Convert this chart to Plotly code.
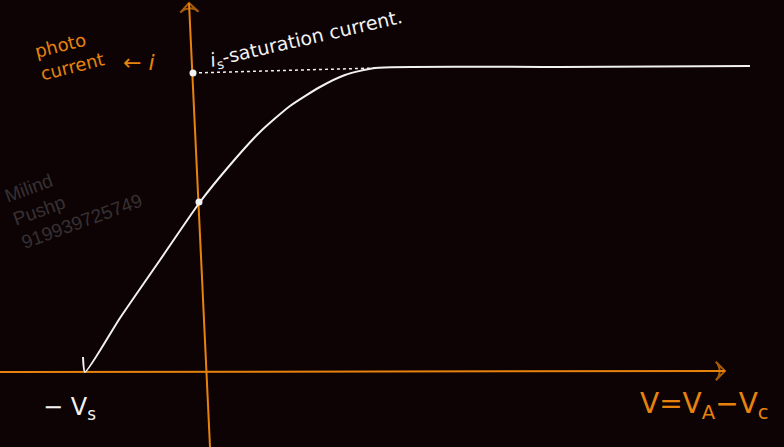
import plotly.graph_objects as go

# photocurrent curve (V in arbitrary units, i in arbitrary units)
volt = [-1.22, -1.20, -0.85, -0.45, -0.05, 0.25, 0.55, 0.85, 1.15, 1.40, 1.70, 3.55, 5.45]
curr = [0.15, 0.00, 0.54, 1.12, 1.70, 2.07, 2.40, 2.66, 2.85, 2.97, 3.04, 3.05, 3.06]

# saturation level guide (dotted) and marked points
sat_v = [-0.12, 1.70]
sat_i = [2.99, 3.04]
dot_v = [-0.12, -0.06]
dot_i = [2.99, 1.70]

# hand-drawn axes (end points)
v_axis_x = [0.05, -0.16]
v_axis_y = [-0.75, 3.69]
h_axis_x = [-2.05, 5.20]
h_axis_y = [0.0, 0.01]

ORANGE = "#e8820e"
WHITE = "#f2f2f2"
BG = "#0d0305"

fig = go.Figure()

# axes with open arrow heads at their ends
for ax_x, ax_y in [(h_axis_x, h_axis_y), (v_axis_x, v_axis_y)]:
    fig.add_trace(go.Scatter(
        x=ax_x, y=ax_y, mode="lines+markers",
        line=dict(color=ORANGE, width=2),
        marker=dict(symbol="arrow-wide-open", angleref="previous",
                    size=[0, 13], color=ORANGE, line=dict(color=ORANGE, width=2)),
        hoverinfo="skip"))

fig.add_trace(go.Scatter(x=sat_v, y=sat_i, mode="lines",
                         line=dict(color=WHITE, width=1.5, dash="dot"), hoverinfo="skip"))
fig.add_trace(go.Scatter(x=volt, y=curr, mode="lines",
                         line=dict(color=WHITE, width=2, shape="spline", smoothing=0.6),
                         hoverinfo="skip"))
fig.add_trace(go.Scatter(x=dot_v, y=dot_i, mode="markers",
                         marker=dict(color=WHITE, size=7), hoverinfo="skip"))

hand = "DejaVu Sans"
fig.add_annotation(x=-1.36, y=3.17, text="photo<br>current", showarrow=False,
                   textangle=-14, font=dict(color=ORANGE, size=18, family=hand),
                   align="left")
fig.add_annotation(x=-0.66, y=3.10, text="← <i>i</i>", showarrow=False,
                   font=dict(color=ORANGE, size=22, family=hand))
fig.add_annotation(x=1.01, y=3.33, text="<i>i</i><sub>s</sub>-saturation current.",
                   showarrow=False, textangle=-13,
                   font=dict(color=WHITE, size=19, family=hand))
fig.add_annotation(x=-1.36, y=-0.36, text="− V<sub>s</sub>", showarrow=False,
                   font=dict(color=WHITE, size=24, family=hand))
fig.add_annotation(x=4.99, y=-0.33, text="V=V<sub>A</sub>−V<sub>c</sub>",
                   showarrow=False, font=dict(color=ORANGE, size=28, family=hand))
fig.add_annotation(x=-1.32, y=1.74, text="Milind<br>Pushp<br>919939725749",
                   showarrow=False, textangle=-20, align="left",
                   font=dict(color="#363133", size=19, family="Liberation Sans"))

fig.update_layout(
    width=784, height=447,
    margin=dict(l=0, r=0, t=0, b=0),
    paper_bgcolor=BG, plot_bgcolor=BG,
    showlegend=False,
    xaxis=dict(range=[-2.05, 5.79], visible=False, fixedrange=True),
    yaxis=dict(range=[-0.75, 3.72], visible=False, fixedrange=True),
)

# drop the default page margin so the dark canvas fills the window
fig.write_html(
    "out.html",
    config={"displayModeBar": False},
    post_script="document.body.style.margin='0';"
                "document.body.style.background='#0d0305';",
)
